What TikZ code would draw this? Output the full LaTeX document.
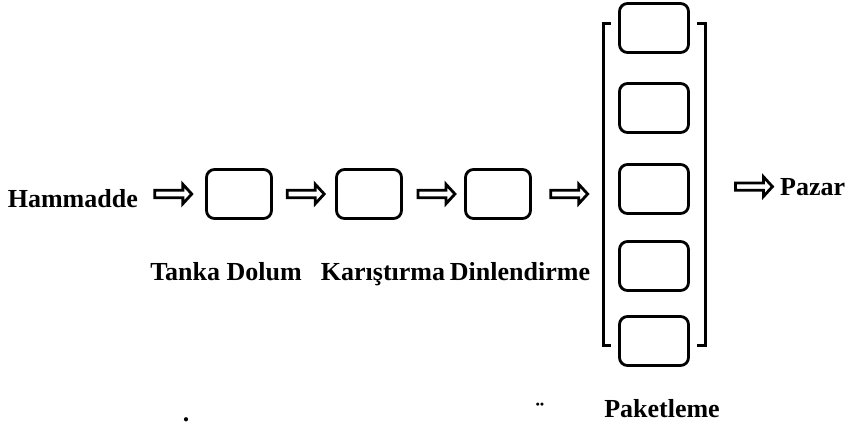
\documentclass[tikz,border=0pt]{standalone}
\usepackage{fontspec}
\setmainfont{Liberation Serif}
\usetikzlibrary{shapes.arrows}

\begin{document}
\begin{tikzpicture}[x=1pt,y=-1pt,
   kutu/.style={draw, line width=2.8pt, rounded corners=8pt, minimum width=65pt, minimum height=49pt, inner sep=0pt},
   etiket/.style={font=\fontsize{26}{30}\selectfont\bfseries, inner sep=0pt},
   ok/.style={draw, fill=white, line width=2.8pt, single arrow, single arrow head extend=6pt,
     single arrow tip angle=95, minimum height=37pt, inner sep=2.3pt, sharp corners}]
   \useasboundingbox (0,0) rectangle (848,426);

   \node(b1)[kutu] at (239,194) {};
   \node(b2)[kutu] at (369,194) {};
   \node(b3)[kutu] at (498,194) {};
   \foreach \i/\y in {1/28,2/108,3/189,4/266,5/341}
     \node(p\i)[kutu, minimum width=69pt] at (654,\y) {};

   \draw[line width=3pt] (611,23) -- (603,23) -- (603,345) -- (611,345);
   \draw[line width=3pt] (697,23) -- (705,23) -- (705,345) -- (697,345);
   \coordinate(solk) at (603,194);
   \coordinate(sag) at (705,188);

   \node(ham)[etiket, anchor=base east] at (138,207) {Hammadde};
   \node(pazar)[etiket, anchor=base west] at (780,195) {Pazar};
   \node(t1)[etiket, anchor=base] at (226,280) {Tanka Dolum};
   \node(t2)[etiket, anchor=base] at (383,280) {Karıştırma};
   \node(t3)[etiket, anchor=base] at (520,280) {Dinlendirme};
   \node(t4)[etiket, anchor=base] at (662,417) {Paketleme};
   \node(nokta)[etiket, anchor=base] at (186,421) {.};
   \node(iki)[etiket, anchor=base] at (540,420) {¨};

   \path (b1.west -| ham.east) -- node(o1)[ok]{} (b1.west);
   \path (b1) -- node(o2)[ok]{} (b2);
   \path (b2) -- node(o3)[ok, pos=0.52]{} (b3);
   \path (b3) -- node(o4)[ok]{} (solk);
   \path (sag |- pazar.west) -- node(o5)[ok, pos=0.63]{} (pazar.west);
\end{tikzpicture}
\end{document}
